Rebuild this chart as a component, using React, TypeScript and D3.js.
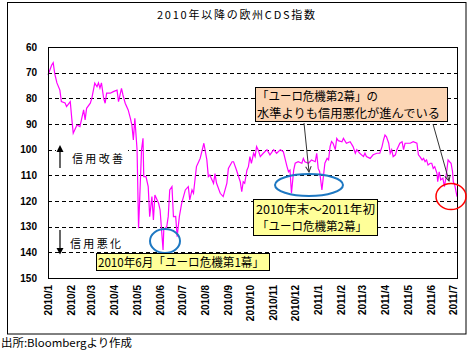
import React from "react";
import * as d3 from "d3";

const dates: string[] = [
  "2010-01-01","2010-01-06","2010-01-08","2010-01-10","2010-01-13","2010-01-17","2010-01-19","2010-01-24","2010-01-26","2010-01-31",
  "2010-02-02","2010-02-04","2010-02-09","2010-02-13","2010-02-18","2010-02-20","2010-02-22","2010-02-27","2010-03-01","2010-03-05",
  "2010-03-08","2010-03-10","2010-03-12","2010-03-14","2010-03-17","2010-03-19","2010-03-21","2010-03-26","2010-03-30","2010-04-04",
  "2010-04-06","2010-04-10","2010-04-12","2010-04-15","2010-04-19","2010-04-22","2010-04-24","2010-04-26","2010-04-28","2010-05-01",
  "2010-05-03","2010-05-05","2010-05-07","2010-05-09","2010-05-10","2010-05-13","2010-05-16","2010-05-18","2010-05-21","2010-05-23",
  "2010-05-25","2010-05-30","2010-06-01","2010-06-03","2010-06-05","2010-06-06","2010-06-10","2010-06-12","2010-06-14","2010-06-17",
  "2010-06-19","2010-06-22","2010-06-24","2010-06-27","2010-06-30","2010-07-05","2010-07-09","2010-07-11","2010-07-14","2010-07-16",
  "2010-07-18","2010-07-20","2010-07-23","2010-07-25","2010-07-30","2010-08-03","2010-08-05","2010-08-07","2010-08-12","2010-08-14",
  "2010-08-16","2010-08-21","2010-08-25","2010-08-30","2010-09-01","2010-09-06","2010-09-08","2010-09-12","2010-09-17","2010-09-19",
  "2010-09-21","2010-09-23","2010-09-26","2010-09-28","2010-09-30","2010-10-02","2010-10-05","2010-10-07","2010-10-09","2010-10-11",
  "2010-10-14","2010-10-18","2010-10-23","2010-10-27","2010-11-01","2010-11-05","2010-11-10","2010-11-14","2010-11-19","2010-11-21",
  "2010-11-23","2010-11-25","2010-11-28","2010-11-30","2010-12-04","2010-12-09","2010-12-11","2010-12-13","2010-12-18","2010-12-22",
  "2010-12-27","2010-12-29","2010-12-31","2011-01-02","2011-01-05","2011-01-07","2011-01-09","2011-01-12","2011-01-14","2011-01-16",
  "2011-01-18","2011-01-20","2011-01-23","2011-01-25","2011-01-27","2011-02-01","2011-02-03","2011-02-07","2011-02-12","2011-02-16",
  "2011-02-19","2011-02-21","2011-02-25","2011-03-02","2011-03-04","2011-03-06","2011-03-11","2011-03-15","2011-03-20","2011-03-24",
  "2011-03-27","2011-03-29","2011-03-31","2011-04-02","2011-04-05","2011-04-07","2011-04-09","2011-04-11","2011-04-14","2011-04-16",
  "2011-04-20","2011-04-23","2011-04-25","2011-04-27","2011-05-01","2011-05-04","2011-05-08","2011-05-13","2011-05-15","2011-05-17",
  "2011-05-20","2011-05-22","2011-05-24","2011-05-26","2011-05-28","2011-05-31","2011-06-02","2011-06-04","2011-06-06","2011-06-09",
  "2011-06-10","2011-06-12","2011-06-14","2011-06-17","2011-06-19","2011-06-21","2011-06-24","2011-06-26","2011-06-28","2011-06-30",
  "2011-07-01","2011-07-03","2011-07-06"
];

const values: number[] = [
  70.9,67,66.1,70.3,74,76.8,81.3,81.8,83.2,81.3,
  87.8,93.6,90.4,91,84.5,88.4,83.9,81.9,80,74.1,
  75.5,74,76,74,80,81.9,78,78,77.4,76.8,
  81.3,76.1,78.7,81.9,84.5,87.8,90.4,96.2,87.8,100,
  130.6,115.7,100,95.6,110.5,110.5,114.4,126.1,118.3,127.4,
  117.7,120.9,123.5,131.3,139.1,131,130,126,115.7,114.4,
  126.1,126,133.9,126,121,115.7,114.4,119.6,115.7,117,
  111.8,106.6,104.7,103.4,97.5,104,110.5,109.9,113.1,109.3,
  113,117,118.3,113,107.3,104.7,104.7,108,112.5,116.4,
  112.5,113.1,108,106.6,102.7,105.3,101.4,102.7,98.8,100,
  102.7,101.4,100,102,100,101.4,100,100.8,106.6,108.6,
  108,117,108,105.3,104.7,105.3,103.4,104.7,105.3,104,
  104.7,101.4,107.3,108.6,115.7,110.5,105.3,103.4,104,98.8,
  96.8,97.5,100,95.6,96.5,96.9,95.6,97.5,96.9,98.8,
  101.4,100,101.4,102.7,101.4,102.7,103.4,102,101.4,101.4,
  98.8,96.2,94.3,95,97.5,101.4,100,102.7,102,100,
  97.5,96.9,100,97.5,97.5,97.5,96.9,97.5,102,102.7,
  104,103.4,104.7,104,106,105.3,105.3,107.3,106.6,109.2,
  112.5,108.6,111.8,111.1,114.4,111.1,104,104.7,105.3,108.6,
  112.5,113.8,118.3
];

const yTicks: number[] = [60, 70, 80, 90, 100, 110, 120, 130, 140, 150];
const gridValues: number[] = [70, 80, 90, 100, 110, 120, 130, 140];
const monthTicks: string[] = [
  "2010-01-01","2010-02-01","2010-03-01","2010-04-01","2010-05-01","2010-06-01","2010-07-01","2010-08-01","2010-09-01","2010-10-01",
  "2010-11-01","2010-12-01","2011-01-01","2011-02-01","2011-03-01","2011-04-01","2011-05-01","2011-06-01","2011-07-01"
];
const monthLabels: string[] = [
  "2010/1","2010/2","2010/3","2010/4","2010/5","2010/6","2010/7","2010/8","2010/9","2010/10",
  "2010/11","2010/12","2011/1","2011/2","2011/3","2011/4","2011/5","2011/6","2011/7"
];

const title = "2010年以降の欧州CDS指数";
const source = "出所:Bloombergより作成";

const W = 469, H = 355;
const PL = 48, PR = 457, PT = 47, PB = 278;
const JP = "'Noto Sans CJK JP', 'Noto Sans', sans-serif";
const NUM = "'Liberation Sans', Arial, sans-serif";

export default function App() {
  const parse = d3.timeParse("%Y-%m-%d");
  const x = d3.scaleTime()
    .domain([parse("2010-01-01") as Date, parse("2011-07-06") as Date])
    .range([PL, PR]);
  const y = d3.scaleLinear().domain([60, 150]).range([PT, PB]);
  const pts = dates.map((d, i) => [x(parse(d) as Date), y(values[i])] as [number, number]);
  const line = d3.line<[number, number]>().x(d => d[0]).y(d => d[1]);

  return (
    <svg width={W} height={H} style={{ position: "absolute", left: 0, top: 0, background: "#fff" }}>
      <defs>
        <marker id="ah" viewBox="0 0 10 10" refX="9" refY="5" markerWidth="7" markerHeight="7" orient="auto">
          <path d="M1,1 L9,5 L1,9" fill="none" stroke="#333" strokeWidth="1.4" />
        </marker>
      </defs>
      <rect x={0} y={0} width={W} height={H} fill="#fff" />
      <rect x={7.5} y={2.5} width={458.5} height={331.5} fill="none" stroke="#000" strokeWidth={1} />
      <text x={236} y={19} textAnchor="middle" fontFamily={JP} fontSize={11} textLength={158} lengthAdjust="spacing">{title}</text>

      {gridValues.map(v => (
        <line key={v} x1={PL} x2={PR} y1={Math.round(y(v)) + 0.5} y2={Math.round(y(v)) + 0.5}
          stroke="#000" strokeWidth={1} strokeDasharray="4,3" />
      ))}

      {yTicks.map(v => (
        <text key={v} x={37} y={y(v)} dy="0.35em" textAnchor="end" fontFamily={NUM} fontWeight="bold" fontSize={10}>{v}</text>
      ))}

      {monthTicks.map((m, i) => {
        const xx = x(parse(m) as Date);
        return (
          <text key={m} transform={`translate(${xx},285) rotate(-90)`} dy="0.35em" textAnchor="end"
            fontFamily={NUM} fontWeight="bold" fontSize={10}>{monthLabels[i]}</text>
        );
      })}

      <path d={line(pts) || ""} fill="none" stroke="#FF00FF" strokeWidth={1.2} />

      <rect x={PL + 0.5} y={PT + 0.5} width={PR - PL} height={PB - PT} fill="none" stroke="#000" strokeWidth={1} />

      {/* 信用改善 */}
      <rect x={56} y={140} width={72} height={31} fill="#fff" />
      <line x1={60} x2={60} y1={168} y2={150} stroke="#000" strokeWidth={1.2} />
      <path d="M60,145 L56.5,152 L63.5,152 Z" fill="#000" />
      <text x={72} y={163} fontFamily={JP} fontSize={11} textLength={51} lengthAdjust="spacing">信用改善</text>

      {/* 信用悪化 */}
      <rect x={56} y={230} width={70} height={22} fill="#fff" />
      <line x1={60} x2={60} y1={230} y2={249} stroke="#000" strokeWidth={1.2} />
      <path d="M60,254.5 L56.5,248 L63.5,248 Z" fill="#000" />
      <text x={70} y={248} fontFamily={JP} fontSize={11} textLength={51} lengthAdjust="spacing">信用悪化</text>

      {/* ellipses */}
      <ellipse cx={165} cy={241} rx={15} ry={12} fill="none" stroke="#1E78C2" strokeWidth={2} />
      <ellipse cx={309} cy={185} rx={34} ry={11} fill="none" stroke="#1E78C2" strokeWidth={2} />
      <ellipse cx={451} cy={196.5} rx={15} ry={13} fill="none" stroke="#FF0000" strokeWidth={1.5} />

      {/* yellow box 1 */}
      <rect x={96.5} y={253.5} width={173} height={17} fill="#FFFF99" stroke="#000" strokeWidth={1} />
      <text x={98} y={267} fontFamily={JP} fontSize={12} textLength={166} lengthAdjust="spacingAndGlyphs">2010年6月「ユーロ危機第1幕」</text>

      {/* yellow box 2 */}
      <rect x={253.5} y={199.5} width={124} height={36} fill="#FFFF99" stroke="#000" strokeWidth={1} />
      <text x={256} y={214} fontFamily={JP} fontSize={12} textLength={119} lengthAdjust="spacingAndGlyphs">2010年末～2011年初</text>
      <text x={257} y={231} fontFamily={JP} fontSize={12} textLength={110} lengthAdjust="spacingAndGlyphs">「ユーロ危機第2幕」</text>

      {/* peach box */}
      <rect x={255.5} y={87.5} width={192} height={34} fill="#FCD5B4" stroke="#000" strokeWidth={1} />
      <text x={257} y={101} fontFamily={JP} fontSize={12} textLength={121} lengthAdjust="spacingAndGlyphs">「ユーロ危機第2幕」の</text>
      <text x={257} y={118} fontFamily={JP} fontSize={12} textLength={183} lengthAdjust="spacingAndGlyphs">水準よりも信用悪化が進んでいる</text>

      <line x1={304} y1={123} x2={309} y2={172} stroke="#333" strokeWidth={1} markerEnd="url(#ah)" />
      <line x1={433} y1={124} x2={449} y2={181} stroke="#333" strokeWidth={1} markerEnd="url(#ah)" />

      <text x={1} y={347} fontFamily={JP} fontSize={11} textLength={131} lengthAdjust="spacingAndGlyphs">{source}</text>
    </svg>
  );
}
